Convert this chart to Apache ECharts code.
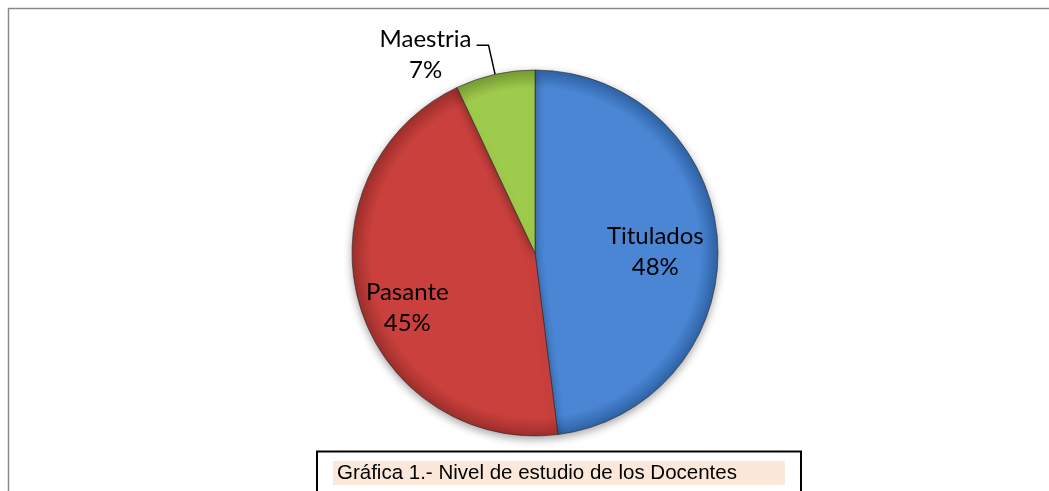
<!DOCTYPE html>
<html>
<head>
<meta charset="utf-8">
<script src="https://cdn.jsdelivr.net/npm/echarts@6/dist/echarts.min.js"></script>
<style>
html,body{margin:0;padding:0;background:#fff;}
#chart{width:1049px;height:491px;}
</style>
</head>
<body>
<div id="chart"></div>
<script>
const categories = ['Titulados', 'Pasante', 'Maestria'];
const values = [48, 45, 7];
const caption = 'Gráfica 1.- Nivel de estudio de los Docentes';

const baseColors = ['#4a86d4', '#c9403d', '#9fcb4c'];
const edgeColors = ['#2f63a6', '#9e2f2c', '#789c34'];
const labelOffsets = [[26, 5], [-37, 28], [0, 0]];

function grad(i) {
  return {
    type: 'radial', x: 535, y: 253, r: 183, global: true,
    colorStops: [
      {offset: 0, color: baseColors[i]},
      {offset: 0.9, color: baseColors[i]},
      {offset: 1, color: edgeColors[i]}
    ]
  };
}

const labelFont = 'Lato, "Liberation Sans", sans-serif';

const chart = echarts.init(document.getElementById('chart'));
chart.setOption({
  animation: false,
  backgroundColor: '#fff',
  graphic: [
    {type: 'rect', shape: {x: 8.5, y: 8.5, width: 1200, height: 800},
     style: {fill: 'none', stroke: '#8a8a8a', lineWidth: 1.5}, z: 0},
    {type: 'rect', shape: {x: 317, y: 451.5, width: 484, height: 100},
     style: {fill: '#fff', stroke: '#000', lineWidth: 2}, z: 10},
    {type: 'rect', shape: {x: 333, y: 461, width: 452, height: 24},
     style: {fill: '#fce8da'}, z: 11},
    {type: 'text', x: 337, y: 473,
     style: {text: caption, font: '20.5px "Liberation Sans", Arial, sans-serif', fill: '#000', textVerticalAlign: 'middle'}, z: 12}
  ],
  series: [{
    type: 'pie',
    center: [535, 253],
    radius: 183,
    startAngle: 90,
    clockwise: true,
    avoidLabelOverlap: false,
    data: categories.map((c, i) => {
      const item = {
        name: c, value: values[i],
        itemStyle: {color: grad(i)}
      };
      if (i < 2) {
        item.label = {position: 'inside', offset: labelOffsets[i]};
        item.labelLine = {show: false};
      } else {
        item.label = {
          position: 'outside',
          formatter: '{s| }\n{a|{b}}\n{c|{d}%}',
          rich: {
            s: {fontSize: 10, lineHeight: 19},
            a: {fontSize: 24, lineHeight: 31, fontFamily: labelFont, color: '#000'},
            c: {fontSize: 24, lineHeight: 31, fontFamily: labelFont, color: '#000', width: 92, align: 'center'}
          }
        };
        item.labelLine = {show: true, length: 30, length2: 12, lineStyle: {color: '#000', width: 1.5}};
      }
      return item;
    }),
    itemStyle: {
      borderColor: 'rgba(40,40,40,0.6)', borderWidth: 1,
      shadowBlur: 8, shadowOffsetY: 3, shadowColor: 'rgba(0,0,0,0.35)'
    },
    label: {
      show: true,
      formatter: '{b}\n{d}%',
      fontFamily: labelFont,
      fontSize: 24,
      lineHeight: 31,
      color: '#000',
      align: 'center'
    },
    emphasis: {disabled: true}
  }]
});
</script>
</body>
</html>
